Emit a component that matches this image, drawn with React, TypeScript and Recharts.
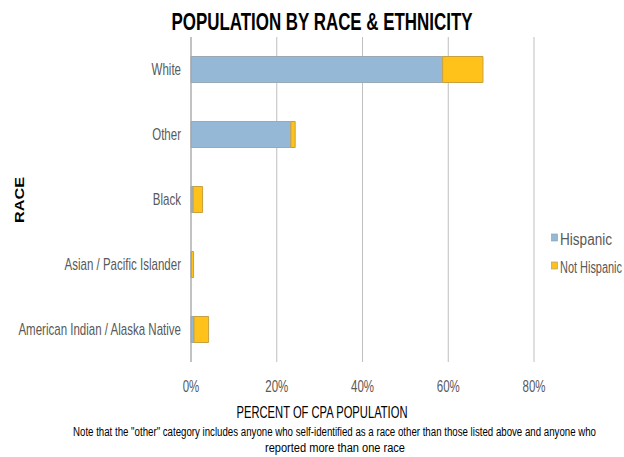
import { BarChart, Bar, XAxis, YAxis, CartesianGrid } from "recharts";

const races = ["White", "Other", "Black", "Asian / Pacific Islander", "American Indian / Alaska Native"];
const hispanic = [58.7, 23.3, 0.5, 0.1, 0.7];
const notHispanic = [9.4, 1.0, 2.2, 0.5, 3.4];
const xTicks = [0, 20, 40, 60, 80];
const seriesNames = ["Hispanic", "Not Hispanic"];
const seriesColors = ["#95b8d6", "#ffc21a"];
const noteLines = [
  'Note that the "other" category includes anyone who self-identified as a race other than those listed above and anyone who',
  "reported more than one race",
];

const data = races.map((race, i) => ({ race, hispanic: hispanic[i], notHispanic: notHispanic[i] }));

const font = "'Liberation Sans', Arial, sans-serif";
const squeeze = 0.72;
const legendWidths = [52, 62];

const RaceTick = (props: any) => {
  const { x, y, payload } = props;
  return (
    <text transform={`translate(${x},${y + 5}) scale(${squeeze},1)`} textAnchor="end" fill="#595959" fontSize={16} fontFamily={font}>
      {payload.value}
    </text>
  );
};

const PctTick = (props: any) => {
  const { x, y, payload } = props;
  return (
    <text transform={`translate(${x},${y + 30}) scale(${squeeze},1)`} textAnchor="middle" fill="#595959" fontSize={16} fontFamily={font}>
      {`${payload.value}%`}
    </text>
  );
};

export default function App() {
  return (
    <div style={{ position: "absolute", left: 0, top: 0, width: 624, height: 457, background: "#fff", overflow: "hidden" }}>
      <BarChart
        width={624}
        height={457}
        data={data}
        layout="vertical"
        barCategoryGap="30%"
        margin={{ top: 37, right: 90, bottom: 65, left: 0 }}
      >
        <CartesianGrid horizontal={false} stroke="#bfbfbf" />
        <XAxis
          type="number"
          domain={[0, 80]}
          ticks={xTicks}
          axisLine={false}
          tickLine={false}
          tickSize={0}
          tickMargin={0}
          tick={<PctTick />}
        />
        <YAxis
          type="category"
          dataKey="race"
          width={191}
          axisLine={{ stroke: "#a6a6a6" }}
          tickLine={false}
          tickSize={0}
          tickMargin={10}
          tick={<RaceTick />}
        />
        <Bar dataKey="hispanic" name={seriesNames[0]} stackId="a" fill={seriesColors[0]} stroke="#9aa9b6" isAnimationActive={false} />
        <Bar dataKey="notHispanic" name={seriesNames[1]} stackId="a" fill={seriesColors[1]} stroke="#c9a040" isAnimationActive={false} />
      </BarChart>
      <svg width={624} height={457} style={{ position: "absolute", left: 0, top: 0, pointerEvents: "none" }} fontFamily={font}>
        <text x={322} y={30} textAnchor="middle" fontSize={24} fontWeight="bold" fill="#000" textLength={301} lengthAdjust="spacingAndGlyphs">
          POPULATION BY RACE &amp; ETHNICITY
        </text>
        <text transform="translate(24,200) rotate(-90)" textAnchor="middle" fontSize={12} fontWeight="bold" fill="#000" textLength={46} lengthAdjust="spacingAndGlyphs">
          RACE
        </text>
        <text x={322} y={418} textAnchor="middle" fontSize={17} fill="#000" textLength={171} lengthAdjust="spacingAndGlyphs">
          PERCENT OF CPA POPULATION
        </text>
        <text x={334.5} y={436} textAnchor="middle" fontSize={12.5} fill="#000" textLength={523} lengthAdjust="spacingAndGlyphs">
          {noteLines[0]}
        </text>
        <text x={335} y={452} textAnchor="middle" fontSize={12.5} fill="#000" textLength={140} lengthAdjust="spacingAndGlyphs">
          {noteLines[1]}
        </text>
        {seriesNames.map((n, i) => (
          <g key={n}>
            <rect x={551.5} y={234 + i * 28} width={6} height={7} fill={seriesColors[i]} stroke="#8a9aa8" strokeWidth={0.6} />
            <text x={560} y={245 + i * 28} fontSize={16} fill="#595959" textLength={legendWidths[i]} lengthAdjust="spacingAndGlyphs">
              {n}
            </text>
          </g>
        ))}
      </svg>
    </div>
  );
}
